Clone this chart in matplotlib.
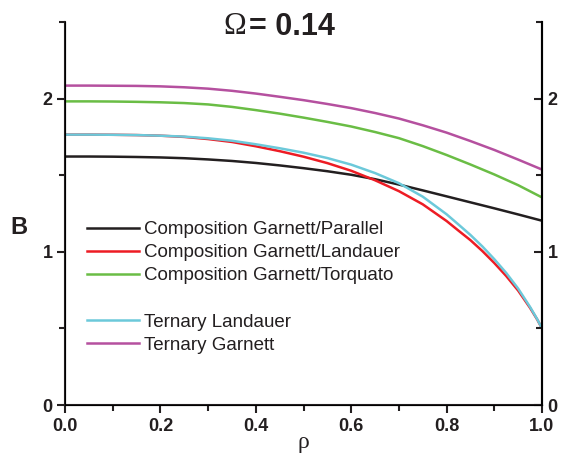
import numpy as np
import matplotlib
matplotlib.use('Agg')
import matplotlib.pyplot as plt
from matplotlib.lines import Line2D
from matplotlib.ticker import MultipleLocator

rho = [0.0, 0.05, 0.1, 0.15, 0.2, 0.25, 0.3, 0.35, 0.4, 0.45, 0.5,
       0.55, 0.6, 0.65, 0.7, 0.75, 0.8, 0.85, 0.9, 0.95, 1.0]
# denser reading for the two curves that drop steeply near rho = 1
rho_fine = [0.0, 0.05, 0.1, 0.15, 0.2, 0.25, 0.3, 0.35, 0.4, 0.45, 0.5,
            0.55, 0.6, 0.65, 0.7, 0.75, 0.8, 0.825, 0.85, 0.875, 0.9,
            0.925, 0.95, 0.975, 0.99, 1.0]

garnett_parallel = [1.622, 1.622, 1.621, 1.619, 1.616, 1.611, 1.603, 1.593, 1.580, 1.564,
                    1.546, 1.526, 1.503, 1.474, 1.439, 1.401, 1.362, 1.323, 1.284, 1.244,
                    1.203]
garnett_torquato = [1.982, 1.982, 1.981, 1.979, 1.976, 1.971, 1.962, 1.946, 1.925, 1.902,
                    1.876, 1.848, 1.818, 1.782, 1.742, 1.690, 1.632, 1.570, 1.505, 1.435,
                    1.355]
ternary_garnett = [2.085, 2.085, 2.084, 2.083, 2.080, 2.074, 2.065, 2.051, 2.033, 2.012,
                   1.990, 1.965, 1.938, 1.906, 1.870, 1.826, 1.778, 1.723, 1.665, 1.602,
                   1.537]
garnett_landauer = [1.765, 1.765, 1.764, 1.762, 1.758, 1.750, 1.736, 1.717, 1.689, 1.657,
                    1.621, 1.579, 1.529, 1.467, 1.396, 1.310, 1.201, 1.138, 1.076, 1.005,
                    0.927, 0.842, 0.747, 0.634, 0.558, 0.500]
ternary_landauer = [1.765, 1.765, 1.764, 1.762, 1.758, 1.752, 1.741, 1.725, 1.702, 1.676,
                    1.647, 1.612, 1.569, 1.514, 1.448, 1.360, 1.245, 1.178, 1.110, 1.035,
                    0.952, 0.862, 0.760, 0.640, 0.560, 0.500]

labels = ['Composition Garnett/Parallel', 'Composition Garnett/Landauer',
          'Composition Garnett/Torquato', 'Ternary Landauer', 'Ternary Garnett']
colors = ['#231f20', '#ed1c24', '#6abd45', '#6cc9da', '#b5509f']

plt.rcParams['font.family'] = ['Liberation Sans', 'DejaVu Sans']

fig = plt.figure(figsize=(5.62, 4.54), dpi=100)
ax = fig.add_axes([0.1157, 0.1079, 0.8487, 0.8436])

ax.plot(rho, garnett_parallel, color=colors[0], lw=1.8)
ax.plot(rho_fine, garnett_landauer, color=colors[1], lw=1.8)
ax.plot(rho, garnett_torquato, color=colors[2], lw=1.8)
ax.plot(rho_fine, ternary_landauer, color=colors[3], lw=1.8)
ax.plot(rho, ternary_garnett, color=colors[4], lw=1.8)

ax.set_xlim(0, 1)
ax.set_ylim(0, 2.5)
ax.spines['top'].set_visible(False)
for sp in ['left', 'right', 'bottom']:
    ax.spines[sp].set_linewidth(1.5)
    ax.spines[sp].set_color('#231f20')

ax.xaxis.set_major_locator(MultipleLocator(0.2))
ax.xaxis.set_minor_locator(MultipleLocator(0.1))
ax.yaxis.set_major_locator(MultipleLocator(1))
ax.yaxis.set_minor_locator(MultipleLocator(0.5))
ax.tick_params(which='major', direction='out', length=6, width=1.5, color='#231f20',
               labelsize=13, pad=3)
ax.tick_params(which='minor', direction='out', length=4, width=1.5, color='#231f20')
ax.set_xticklabels(['%.1f' % v for v in ax.get_xticks()])
for t in ax.get_xticklabels() + ax.get_yticklabels():
    t.set_fontweight('bold')
    t.set_color('#231f20')

# right axis, ticks pointing inward
ax2 = ax.twinx()
ax2.set_ylim(0, 2.5)
ax2.spines['top'].set_visible(False)
ax2.spines['right'].set_linewidth(1.5)
ax2.yaxis.set_major_locator(MultipleLocator(1))
ax2.yaxis.set_minor_locator(MultipleLocator(0.5))
ax2.tick_params(which='major', direction='in', length=6, width=1.5, color='#231f20',
                labelsize=13, pad=4)
ax2.tick_params(which='minor', direction='in', length=4, width=1.5, color='#231f20')
for t in ax2.get_yticklabels():
    t.set_fontweight('bold')
    t.set_color('#231f20')

ax.set_xlabel('ρ', family='Liberation Serif', fontsize=17, labelpad=-2, color='#231f20')
fig.text(19 / 562, 1 - 227 / 454, 'B', fontsize=17, fontweight='bold',
         ha='center', va='center', color='#231f20')

fig.text(246 / 562, 1 - 27 / 454, 'Ω', family='Liberation Serif', fontsize=22,
         ha='right', va='center', color='#231f20')
fig.text(249 / 562, 1 - 27 / 454, '= 0.14', fontsize=22, fontweight='bold',
         ha='left', va='center', color='#231f20')

handles = [Line2D([], [], color=c, lw=1.8) for c in colors]
blank = Line2D([], [], color='none')
hl = handles[:3] + [blank] + handles[3:]
ll = labels[:3] + [''] + labels[3:]
leg = fig.legend(hl, ll, loc='upper left', bbox_to_anchor=(87 / 562, 1 - 221 / 454),
                 frameon=False, fontsize=13.5, handlelength=2.75, handletextpad=0.3,
                 labelspacing=0.32, borderpad=0, borderaxespad=0)
for t in leg.get_texts():
    t.set_color('#231f20')

fig.savefig('out.png', dpi=100)
